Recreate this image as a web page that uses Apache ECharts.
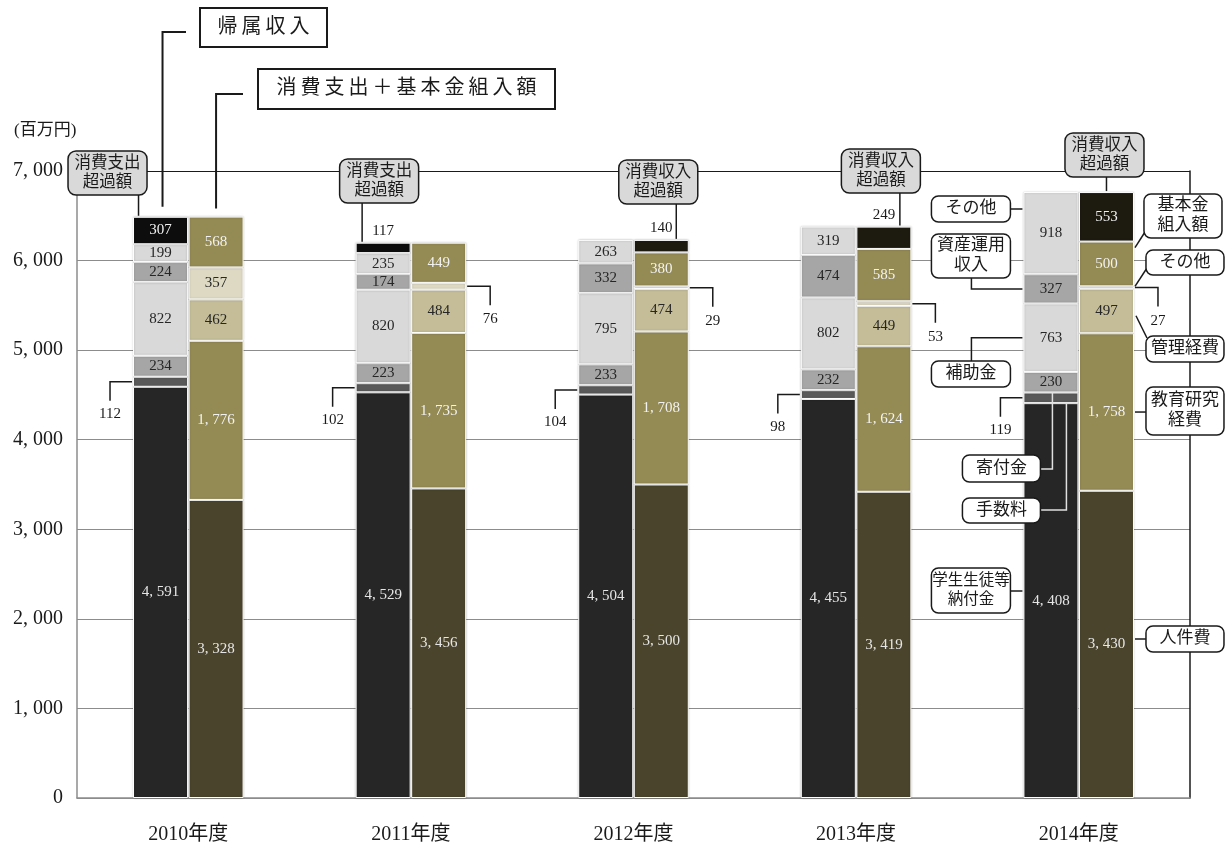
<!DOCTYPE html>
<html>
<head>
<meta charset="utf-8">
<script src="https://cdn.jsdelivr.net/npm/echarts@6/dist/echarts.min.js"></script>
<style>
  html, body { margin: 0; padding: 0; background: #fff; }
  #chart { width: 1229px; height: 848px; }
</style>
</head>
<body>
<div id="chart"></div>
<script>
// ---- data (百万円) ----
const years = ['2010年度', '2011年度', '2012年度', '2013年度', '2014年度'];
const yTicks = [0, 1000, 2000, 3000, 4000, 5000, 6000, 7000];

// 帰属収入
const tuition       = [4591, 4529, 4504, 4455, 4408]; // 学生生徒等納付金
const fees          = [112, 102, 104, 98, 119];       // 手数料
const donations     = [234, 223, 233, 232, 230];      // 寄付金
const subsidies     = [822, 820, 795, 802, 763];      // 補助金
const assetIncome   = [224, 174, 332, 474, 327];      // 資産運用収入
const otherIncome   = [199, 235, 263, 319, 918];      // その他
const expenseExcess = [307, 117, null, null, null];   // 消費支出超過額

// 消費支出＋基本金組入額
const personnel     = [3328, 3456, 3500, 3419, 3430]; // 人件費
const education     = [1776, 1735, 1708, 1624, 1758]; // 教育研究経費
const admin         = [462, 484, 474, 449, 497];      // 管理経費
const otherExpense  = [357, 76, 29, 53, 27];          // その他
const endowment     = [568, 449, 380, 585, 500];      // 基本金組入額
const incomeExcess  = [null, null, 140, 249, 553];    // 消費収入超過額

// ---- styling ----
const FONT = "'Liberation Serif', 'Noto Sans CJK JP', serif";
const INK = '#1a1a1a';
const ON_DARK = '#e6e6e6';
const ON_LIGHT = '#262626';

function fmt(v) {
  return String(v).replace(/\B(?=(\d{3})+(?!\d))/g, ', ');
}

// stack definitions; "outside" lists the years whose value is written beside the bar
const incomeDefs = [
  { id: 'tuition',   name: '学生生徒等納付金', data: tuition,       color: '#262626', text: ON_DARK },
  { id: 'fees',      name: '手数料',           data: fees,          color: '#595959', text: ON_DARK, outside: [0, 1, 2, 3, 4] },
  { id: 'donations', name: '寄付金',           data: donations,     color: '#a6a6a6', text: ON_LIGHT },
  { id: 'subsidies', name: '補助金',           data: subsidies,     color: '#d9d9d9', text: ON_LIGHT },
  { id: 'assetInc',  name: '資産運用収入',     data: assetIncome,   color: '#a6a6a6', text: ON_LIGHT },
  { id: 'otherInc',  name: 'その他',           data: otherIncome,   color: '#d9d9d9', text: ON_LIGHT },
  { id: 'expExcess', name: '消費支出超過額',   data: expenseExcess, color: '#0d0d0d', text: '#f2f2f2', outside: [1] }
];
const expenseDefs = [
  { id: 'personnel', name: '人件費',           data: personnel,     color: '#4a442c', text: ON_DARK },
  { id: 'education', name: '教育研究経費',     data: education,     color: '#948a54', text: '#f2f2f2' },
  { id: 'admin',     name: '管理経費',         data: admin,         color: '#c4bd97', text: ON_LIGHT },
  { id: 'otherExp',  name: 'その他',           data: otherExpense,  color: '#ddd9c3', text: ON_LIGHT, outside: [1, 2, 3, 4] },
  { id: 'endowment', name: '基本金組入額',     data: endowment,     color: '#948a54', text: '#f2f2f2' },
  { id: 'incExcess', name: '消費収入超過額',   data: incomeExcess,  color: '#1d1b10', text: '#f2f2f2', outside: [2, 3] }
];

function makeSeries(def, stack) {
  const outside = def.outside || [];
  return {
    id: def.id,
    name: def.name,
    type: 'bar',
    stack: stack,
    barWidth: 55,
    barGap: '1%',
    data: def.data.map((v, i) => ({
      value: v == null ? '-' : v,
      label: { show: v != null && outside.indexOf(i) < 0 }
    })),
    itemStyle: {
      color: def.color,
      borderColor: '#ffffff',
      borderWidth: 1,
      shadowColor: 'rgba(0,0,0,0.22)',
      shadowBlur: 2
    },
    label: {
      position: 'inside',
      color: def.text,
      fontSize: 15,
      fontFamily: FONT,
      formatter: p => fmt(p.value)
    },
    emphasis: { disabled: true },
    silent: true
  };
}

const allDefs = incomeDefs.map(d => ['income', d]).concat(expenseDefs.map(d => ['expense', d]));
const seriesIndex = {};
allDefs.forEach(([, d], k) => { seriesIndex[d.id] = k; });

const gridColors = yTicks.map((t, k) => (k === yTicks.length - 1 ? INK : '#8c8c8c'));

const option = {
  animation: false,
  backgroundColor: '#ffffff',
  grid: { left: 77, right: 39, top: 171, bottom: 50, containLabel: false },
  xAxis: {
    type: 'category',
    data: years,
    axisLine: { show: true, lineStyle: { color: '#8c8c8c', width: 1.5 } },
    axisTick: { show: false },
    axisLabel: { fontSize: 20, color: INK, fontFamily: FONT, margin: 27 }
  },
  yAxis: [
    {
      type: 'value',
      min: yTicks[0],
      max: yTicks[yTicks.length - 1],
      interval: yTicks[1] - yTicks[0],
      axisLine: { show: true, lineStyle: { color: '#8c8c8c', width: 1.5 } },
      axisTick: { show: false },
      axisLabel: { fontSize: 20, color: INK, fontFamily: FONT, margin: 14, formatter: v => fmt(v) },
      splitLine: { show: true, lineStyle: { color: gridColors, width: 1.2 } }
    },
    {
      type: 'value',
      position: 'right',
      min: yTicks[0],
      max: yTicks[yTicks.length - 1],
      interval: yTicks[1] - yTicks[0],
      axisLine: { show: true, lineStyle: { color: INK, width: 1.5 } },
      axisTick: { show: false },
      axisLabel: { show: false },
      splitLine: { show: false }
    }
  ],
  series: allDefs.map(([stack, d]) => makeSeries(d, stack))
};

const chart = echarts.init(document.getElementById('chart'), null, { renderer: 'canvas' });
chart.setOption(option);

// ---- annotations, anchored on the bar layout computed by the chart ----
const model = chart.getModel();
function seg(id, i) {
  const l = model.getSeriesByIndex(seriesIndex[id]).getData().getItemLayout(i);
  const x0 = Math.min(l.x, l.x + l.width), x1 = Math.max(l.x, l.x + l.width);
  const y0 = Math.min(l.y, l.y + l.height), y1 = Math.max(l.y, l.y + l.height);
  return { l: x0, r: x1, t: y0, b: y1, cx: (x0 + x1) / 2, cy: (y0 + y1) / 2 };
}

const g = [];
function line(points, color, w) {
  g.push({ type: 'polyline', silent: true, z: 100,
    shape: { points: points },
    style: { stroke: color || INK, lineWidth: w || 1.5, fill: null } });
}
function label(x, y, text, size, color) {
  g.push({ type: 'text', silent: true, z: 102, x: x, y: y,
    style: { text: text, fontSize: size || 15, fontFamily: FONT, fill: color || INK,
             align: 'center', verticalAlign: 'middle' } });
}
function box(x, y, w, h, text, opt) {
  opt = opt || {};
  g.push({ type: 'rect', silent: true, z: 101,
    shape: { x: x, y: y, width: w, height: h, r: opt.r == null ? 7 : opt.r },
    style: { fill: opt.fill || '#ffffff', stroke: INK, lineWidth: opt.lw || 1.5 } });
  g.push({ type: 'text', silent: true, z: 102, x: x + w / 2, y: y + h / 2,
    style: { text: text, fontSize: opt.size || 16, fontFamily: FONT, fill: INK,
             align: 'center', verticalAlign: 'middle', lineHeight: opt.lh || 19 } });
}

// unit
g.push({ type: 'text', silent: true, z: 102, x: 14, y: 131,
  style: { text: '(百万円)', fontSize: 17, fontFamily: FONT, fill: INK, verticalAlign: 'middle' } });

// headers for the two bars of each year
const inc0 = seg('expExcess', 0);
const exp0 = seg('endowment', 0);
line([[inc0.cx + 2, inc0.t - 10], [inc0.cx + 2, 32], [186, 32]], INK, 2);
box(200, 8, 127, 39, '帰\u2009属\u2009収\u2009入', { r: 0, size: 20, lw: 2 });
line([[exp0.cx, exp0.t - 8], [exp0.cx, 94], [243, 94]], INK, 2);
box(258, 69, 297, 40, '消\u2009費\u2009支\u2009出\u2009＋\u2009基\u2009本\u2009金\u2009組\u2009入\u2009額', { r: 0, size: 20, lw: 2 });

// surplus / deficit callouts
const excessCallouts = [
  { id: 'expExcess', i: 0, text: '消費支出\n超過額', top: 151, dx: -53, lx: -22, data: expenseExcess },
  { id: 'expExcess', i: 1, text: '消費支出\n超過額', top: 159, dx: -4,  lx: -21, data: expenseExcess, value: true },
  { id: 'incExcess', i: 2, text: '消費収入\n超過額', top: 160, dx: -3,  lx: 15,  data: incomeExcess, value: true },
  { id: 'incExcess', i: 3, text: '消費収入\n超過額', top: 149, dx: -3,  lx: 16,  data: incomeExcess, value: true },
  { id: 'incExcess', i: 4, text: '消費収入\n超過額', top: 133, dx: -2,  lx: 0,   data: incomeExcess }
];
excessCallouts.forEach(c => {
  const s = seg(c.id, c.i);
  line([[s.cx + c.lx, c.top + 44], [s.cx + c.lx, s.t - 1]]);
  box(s.cx + c.dx - 39.5, c.top, 79, 44, c.text, { fill: '#d9d9d9', r: 8, size: 16.5 });
  if (c.value) label(s.cx, s.t - 12, fmt(c.data[c.i]));
});

// 手数料 values beside the income bars
fees.forEach((v, i) => {
  const s = seg('fees', i);
  line([[s.l - 1, s.cy], [s.l - 23, s.cy], [s.l - 23, s.cy + 19]]);
  label(s.l - 23, s.cy + 32, fmt(v));
});

// small その他 values beside the expense bars
[1, 2, 3, 4].forEach(i => {
  const s = seg('otherExp', i);
  line([[s.r + 1, s.cy], [s.r + 24, s.cy], [s.r + 24, s.cy + 19]]);
  label(s.r + 24, s.cy + 33, fmt(otherExpense[i]));
});

// item names on the 2014 bars
const last = years.length - 1;
const incL = seg('tuition', last).l;
const expR = seg('personnel', last).r;

box(incL - 92, 196, 79, 26, 'その他', { size: 17 });
line([[incL - 13, 209], [incL - 1, 209]]);

const sAsset = seg('assetInc', last);
line([[incL - 52, 278], [incL - 52, sAsset.cy], [incL - 1, sAsset.cy]]);
box(incL - 92, 234, 79, 44, '資産運用\n収入', { size: 17, lh: 20 });

const sSub = seg('subsidies', last);
line([[incL - 52, 361], [incL - 52, sSub.cy], [incL - 1, sSub.cy]]);
box(incL - 92, 361, 79, 26, '補助金', { size: 17 });

const sDon = seg('donations', last);
line([[incL + 17, 469], [incL + 29, 469], [incL + 29, sDon.b]], '#e0e0e0');
box(incL - 61, 455, 78, 27, '寄付金', { size: 17 });

const sFee = seg('fees', last);
line([[incL + 17, 510], [incL + 43, 510], [incL + 43, sFee.b]], '#e0e0e0');
box(incL - 61, 498, 78, 25, '手数料', { size: 17 });

line([[incL - 13, 591], [incL - 1, 591]]);
box(incL - 92, 568, 79, 45, '学生生徒等\n納付金', { size: 15.5 });

const sEnd = seg('endowment', last);
line([[expR + 11, 232], [expR + 1, sEnd.t + 6]]);
box(expR + 10, 194, 78, 44, '基本金\n組入額', { size: 17, lh: 20 });

const sOth = seg('otherExp', last);
line([[expR + 13, 268], [expR + 1, sOth.t]]);
box(expR + 12, 250, 78, 25, 'その他', { size: 17 });

const sAdm = seg('admin', last);
line([[expR + 13, 338], [expR + 2, sAdm.t + 27]]);
box(expR + 12, 336, 78, 26, '管理経費', { size: 17 });

const sEdu = seg('education', last);
line([[expR + 1, sEdu.cy], [expR + 12, sEdu.cy]]);
box(expR + 12, 387, 78, 48, '教育研究\n経費', { size: 17, lh: 20 });

line([[expR + 1, 639], [expR + 12, 639]]);
box(expR + 12, 626, 78, 26, '人件費', { size: 17 });

chart.setOption({ graphic: g });
</script>
</body>
</html>
